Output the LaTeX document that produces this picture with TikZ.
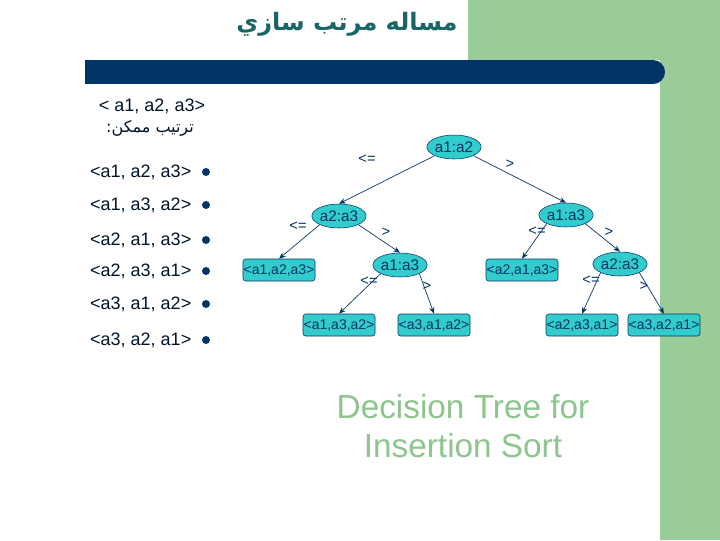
\documentclass[tikz,border=0pt]{standalone}
\usepackage{fontspec}
\setmainfont{Liberation Sans}
\newfontfamily\arabicfont[Script=Arabic]{DejaVu Sans}
\TeXXeTstate=1
\usetikzlibrary{shapes.geometric,arrows.meta}
\definecolor{navy}{HTML}{003366}
\definecolor{sage}{HTML}{99CC99}
\definecolor{teal1}{HTML}{33CCCC}
\definecolor{titlec}{HTML}{1A6666}
\definecolor{lgreen}{HTML}{8CC68C}
\newlength{\pxu}\setlength{\pxu}{0.75pt}
\tikzset{
  dec/.style={ellipse,draw=navy,fill=teal1,inner sep=0pt,minimum width=54\pxu,minimum height=24\pxu,font=\fontsize{11.5}{13}\selectfont,text=navy},
  leaf/.style={rectangle,rounded corners=2pt,draw=navy,fill=teal1,inner sep=0pt,minimum width=72\pxu,minimum height=22\pxu,font=\fontsize{10.5}{12}\selectfont,text=navy},
  edge/.style={draw=navy,-{Stealth[length=5pt,width=4pt]},line width=0.5pt},
  elab/.style={font=\fontsize{11}{12}\selectfont,text=navy},
  item/.style={anchor=east,font=\fontsize{13.5}{15}\selectfont,text=navy!40!black},
  dot/.style={circle,fill=navy,inner sep=0pt,minimum size=8\pxu},
}
\begin{document}
\begin{tikzpicture}[x=0.75pt,y=-0.75pt]
\useasboundingbox (0,0) rectangle (720,540);
\fill[white] (0,0) rectangle (720,540);
\fill[sage] (468,0) rectangle (720,60);
\fill[sage] (660,0) rectangle (720,540);
\fill[navy] (85,60) rectangle (653,84);
\fill[navy] (653,72) circle[radius=9pt];
\node[font=\arabicfont\bfseries\fontsize{18}{22}\selectfont,text=titlec] (title) at (347,24) {\beginR مساله مرتب سازي\endR};
\node[font=\fontsize{13.5}{15}\selectfont,text=navy!40!black] (h1) at (152,106) {< a1, a2, a3>};
\node[font=\arabicfont\fontsize{12}{14}\selectfont,text=navy!40!black] (h2) at (150,128) {\beginR ترتيب ممكن:\endR};
\foreach \t/\y [count=\i] in {{<a1, a2, a3>}/172,{<a1, a3, a2>}/205,{<a2, a1, a3>}/240,{<a2, a3, a1>}/271,{<a3, a1, a2>}/304,{<a3, a2, a1>}/340}{
  \node[item] (it\i) at (196,\y) {\t};
  \node[dot] (dt\i) at (206,\y) {};
}
\node[dec] (r) at (454,147) {a1:a2};
\node[dec] (l) at (339,216) {a2:a3};
\node[dec] (lr) at (400,265) {a1:a3};
\node[dec] (rr) at (566,215) {a1:a3};
\node[dec] (rrr) at (620,264) {a2:a3};
\node[leaf] (L1) at (279,270) {<a1,a2,a3>};
\node[leaf] (L2) at (339,325) {<a1,a3,a2>};
\node[leaf] (L3) at (434,325) {<a3,a1,a2>};
\node[leaf] (L4) at (522,270) {<a2,a1,a3>};
\node[leaf] (L5) at (582,325) {<a2,a3,a1>};
\node[leaf] (L6) at (664,325) {<a3,a2,a1>};
\draw[edge] (r.south west) -- (l.north);
\draw[edge] (r.south east) -- (rr.north);
\draw[edge] (l.south west) -- (L1.north);
\draw[edge] (l.south east) -- (lr.north);
\draw[edge] (lr.south west) -- (L2.north);
\draw[edge] (lr.south east) -- (L3.north);
\draw[edge] (rr.south west) -- (L4.north);
\draw[edge] (rr.south east) -- (rrr.north);
\draw[edge] (rrr.south west) -- (L5.north);
\draw[edge] (rrr.south east) -- (L6.north);
\node[elab] (e1) at (367,159) {<=};
\node[elab] (e2) at (510,164) {>};
\node[elab] (e3) at (298,226) {<=};
\node[elab] (e4) at (386,232) {>};
\node[elab] (e5) at (369,281) {<=};
\node[elab] (e6) at (427,286) {>};
\node[elab] (e7) at (537,231) {<=};
\node[elab] (e8) at (609,232) {>};
\node[elab] (e9) at (591,280) {<=};
\node[elab] (e10) at (644,286) {>};
\node[font=\fontsize{25}{30}\selectfont,text=lgreen,align=center] (big) at (463,426) {Decision Tree for\\[-1pt]Insertion Sort};
\end{tikzpicture}
\end{document}
